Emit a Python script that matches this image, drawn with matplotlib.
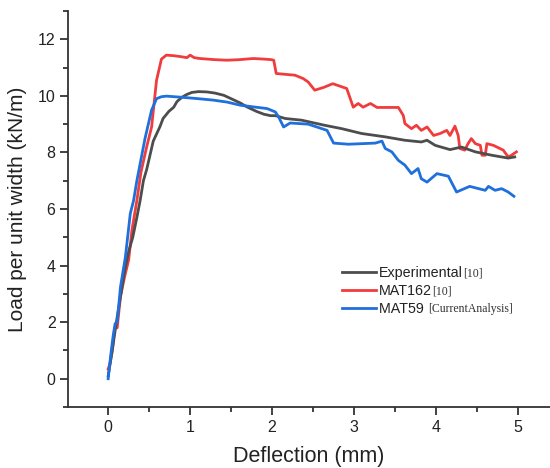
import matplotlib
matplotlib.use("Agg")
import matplotlib.pyplot as plt
from matplotlib.ticker import MultipleLocator

plt.rcParams['font.family'] = ['Liberation Sans', 'DejaVu Sans']

# Experimental [10]
exp_x = [0, 0.05, 0.1, 0.15, 0.2, 0.25, 0.3, 0.35, 0.39, 0.43, 0.47, 0.55, 0.63, 0.67, 0.74,
         0.8, 0.84, 0.9, 0.96, 1.02, 1.1, 1.2, 1.3, 1.41, 1.5, 1.61, 1.7, 1.81, 1.9, 1.98,
         2.04, 2.1, 2.16, 2.36, 2.5, 2.64, 2.85, 3.09, 3.38, 3.62, 3.82, 3.89, 3.99, 4.17,
         4.31, 4.48, 4.68, 4.88, 4.96]
exp_y = [0.1, 1.0, 2.0, 2.9, 3.8, 4.5, 5.0, 5.7, 6.3, 7.0, 7.4, 8.4, 8.9, 9.2, 9.45,
         9.6, 9.8, 9.95, 10.05, 10.12, 10.15, 10.14, 10.1, 10.02, 9.9, 9.75, 9.6, 9.45, 9.35, 9.3,
         9.3, 9.25, 9.2, 9.14, 9.05, 8.96, 8.84, 8.67, 8.55, 8.43, 8.37, 8.43, 8.25, 8.1,
         8.19, 8.02, 7.9, 7.8, 7.84]

# MAT162 [10]
m162_x = [0, 0.02, 0.05, 0.08, 0.11, 0.15, 0.2, 0.25, 0.29, 0.35, 0.4, 0.47, 0.53, 0.59,
          0.65, 0.71, 0.8, 0.9, 0.96, 1.0, 1.05, 1.12, 1.3, 1.45, 1.6, 1.77, 1.9, 1.99, 2.02,
          2.05, 2.28, 2.38, 2.44, 2.52, 2.63, 2.74, 2.91, 2.99, 3.05, 3.11, 3.2, 3.28, 3.54,
          3.6, 3.62, 3.70, 3.76, 3.82, 3.89, 3.97, 4.05, 4.13, 4.17, 4.23, 4.27, 4.29, 4.35,
          4.39, 4.43, 4.48, 4.54, 4.56, 4.6, 4.62, 4.7, 4.82, 4.88, 4.92, 4.98]
m162_y = [0.35, 0.5, 1.0, 1.8, 1.8, 2.9, 3.6, 4.2, 5.25, 6.3, 7.3, 8.2, 8.9, 10.55,
          11.3, 11.44, 11.42, 11.38, 11.35, 11.44, 11.35, 11.32, 11.28, 11.26, 11.28, 11.32, 11.3, 11.28, 11.26,
          10.79, 10.73, 10.61, 10.49, 10.2, 10.3, 10.43, 10.26, 9.6, 9.73, 9.6, 9.73, 9.59, 9.59,
          9.31, 9.02, 8.84, 8.96, 8.78, 8.9, 8.6, 8.67, 8.78, 8.6, 8.93, 8.6, 8.14, 8.08,
          8.31, 8.49, 8.31, 8.25, 7.9, 7.9, 8.31, 8.25, 8.08, 7.84, 7.9, 8.02]

# MAT59 [Current Analysis]
m59_x = [0, 0.03, 0.06, 0.085, 0.11, 0.15, 0.21, 0.27, 0.31, 0.35, 0.39, 0.45, 0.53, 0.59,
         0.65, 0.71, 0.9, 1.1, 1.28, 1.45, 1.61, 1.8, 1.94, 2.04, 2.08, 2.14, 2.22, 2.44,
         2.67, 2.75, 2.93, 3.26, 3.34, 3.38, 3.46, 3.54, 3.62, 3.70, 3.78, 3.82, 3.89, 4.01,
         4.15, 4.25, 4.41, 4.6, 4.64, 4.72, 4.8, 4.88, 4.95]
m59_y = [0.0, 0.8, 1.5, 1.95, 2.0, 3.24, 4.3, 5.84, 6.3, 7.0, 7.6, 8.5, 9.5, 9.9,
         9.97, 9.99, 9.95, 9.9, 9.85, 9.78, 9.67, 9.6, 9.55, 9.43, 9.25, 8.9, 9.04, 9.0,
         8.78, 8.33, 8.29, 8.33, 8.4, 8.14, 8.02, 7.72, 7.55, 7.25, 7.43, 7.07, 6.95, 7.25,
         7.16, 6.6, 6.8, 6.66, 6.8, 6.66, 6.72, 6.6, 6.45]

labels = ["Experimental", "MAT162", "MAT59 "]
refs = ["[10]", "[10]", "[CurrentAnalysis]"]
colors = ["#4d4d4d", "#f03c3c", "#1f6fdc"]

fig = plt.figure(figsize=(5.5, 4.68), dpi=100)
ax = fig.add_axes([68/550, 61/468, 1 - 68/550, (407-11)/468])

lw = 2.0
ax.plot(exp_x, exp_y, color=colors[0], lw=lw, label=labels[0], zorder=3)
ax.plot(m162_x, m162_y, color=colors[1], lw=lw, label=labels[1], zorder=2)
ax.plot(m59_x, m59_y, color=colors[2], lw=lw, label=labels[2], zorder=4)

ax.set_xlim(-0.49, 5.39)
ax.set_ylim(-1, 13)
ax.xaxis.set_major_locator(MultipleLocator(1))
ax.xaxis.set_minor_locator(MultipleLocator(0.5))
ax.yaxis.set_major_locator(MultipleLocator(2))
ax.yaxis.set_minor_locator(MultipleLocator(1))

for s in ['top', 'right']:
    ax.spines[s].set_visible(False)
for s in ['left', 'bottom']:
    ax.spines[s].set_linewidth(1.3)
    ax.spines[s].set_color('#333333')
ax.tick_params(which='major', direction='out', length=6, width=1.3, color='#333333',
               labelsize=11.5, labelcolor='#222222', pad=3)
ax.tick_params(which='minor', direction='out', length=3.5, width=1.3, color='#333333')

ax.set_xlabel("Deflection (mm)", fontsize=15.5, color='#222222', labelpad=8)
ax.set_ylabel("Load per unit width (kN/m)", fontsize=15, color='#222222', labelpad=8)

leg = ax.legend(loc='upper left', bbox_to_anchor=(0.568, 0.356), frameon=False,
                fontsize=10.3, handlelength=2.4, handletextpad=0.2, labelspacing=0.28,
                borderaxespad=0, borderpad=0)
for t in leg.get_texts():
    t.set_color('#222222')

fig.canvas.draw()
renderer = fig.canvas.get_renderer()
for t, r in zip(leg.get_texts(), refs):
    bb = t.get_window_extent(renderer)
    fig.text((bb.x1 + 0.5) / fig.bbox.width, (bb.y0 + bb.y1) / 2 / fig.bbox.height, r,
             family=['Liberation Serif', 'DejaVu Serif'], fontsize=8.5, color='#333333',
             ha='left', va='center')

fig.savefig("out.png", dpi=100)
